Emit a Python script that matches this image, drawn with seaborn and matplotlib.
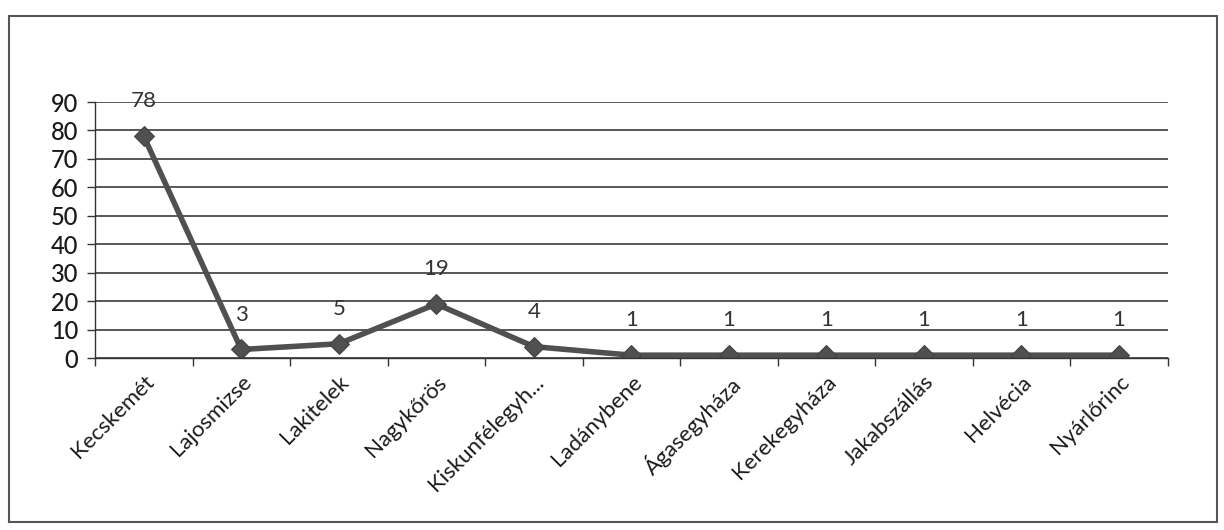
import matplotlib
matplotlib.use("Agg")
import matplotlib.pyplot as plt
import seaborn as sns
import pandas as pd
from matplotlib.patches import Rectangle

categories = ["Kecskemét", "Lajosmizse", "Lakitelek", "Nagykőrös", "Kiskunfélegyh...",
              "Ladánybene", "Ágasegyháza", "Kerekegyháza", "Jakabszállás", "Helvécia", "Nyárlőrinc"]
values = [78, 3, 5, 19, 4, 1, 1, 1, 1, 1, 1]
y_ticks = [0, 10, 20, 30, 40, 50, 60, 70, 80, 90]

sns.set_theme(style="white")
plt.rcParams['font.family'] = ['Lato', 'DejaVu Sans']

df = pd.DataFrame({"pos": list(range(len(categories))), "value": values})

fig = plt.figure(figsize=(12.24, 5.30), dpi=100)
ax = fig.add_axes([0.0776, 0.3245, 0.8764, 0.483])

line_color = "#505050"
sns.lineplot(data=df, x="pos", y="value", ax=ax, color=line_color, linewidth=4,
             marker="D", markersize=10, markeredgecolor="#404040", markerfacecolor="#505050")

ax.set_xlim(-0.5, len(categories) - 0.5)
ax.set_ylim(0, 90)
ax.set_yticks(y_ticks)
ax.set_yticklabels([str(t) for t in y_ticks], fontsize=17, color="#1a1a1a", fontweight="medium")
ax.yaxis.grid(True, color="#2a2a2a", linewidth=1.1)
ax.set_axisbelow(True)

# x ticks at category boundaries, labels at centres
ax.set_xticks([i - 0.5 for i in range(len(categories) + 1)])
ax.set_xticklabels([])
ax.set_xticks(list(range(len(categories))), minor=True)
ax.set_xticklabels(categories, minor=True, rotation=45, ha="right", rotation_mode="anchor",
                   fontsize=16, color="#1a1a1a")
ax.tick_params(axis="x", which="major", direction="out", length=6, width=1, color="#333333", bottom=True)
ax.tick_params(axis="x", which="minor", length=0, pad=10, bottom=True)
ax.tick_params(axis="y", direction="out", length=6, width=1, color="#333333", left=True, pad=6)

for s in ["top", "right"]:
    ax.spines[s].set_visible(False)
for s in ["left", "bottom"]:
    ax.spines[s].set_color("#333333")
    ax.spines[s].set_linewidth(1.0)

ax.set_xlabel("")
ax.set_ylabel("")

for i, v in enumerate(values):
    ax.annotate(str(v), (i, v), xytext=(0, 25), textcoords="offset points",
                ha="center", va="center", fontsize=16, color="#333333")

fig.patches.append(Rectangle((0.007, 0.015), 0.987, 0.955, transform=fig.transFigure,
                             fill=False, edgecolor="#555555", linewidth=1.5))

fig.savefig("out.png", dpi=100, facecolor="white")
